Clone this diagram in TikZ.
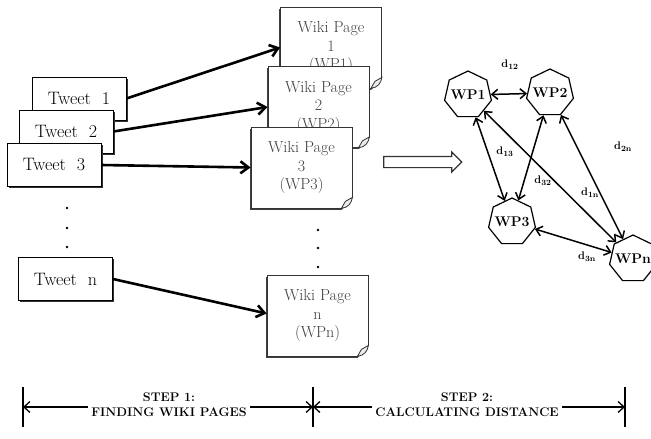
\documentclass[tikz,border=0pt]{standalone}
\usetikzlibrary{arrows.meta,shapes.geometric,shapes.arrows,shadows}
\tikzset{
  tweetbox/.style={draw, fill=white, line width=0.9pt, minimum width=94pt, minimum height=43pt,
    font=\fontsize{18}{20}\selectfont,
    drop shadow={shadow xshift=1.5pt, shadow yshift=-1.5pt, fill=black!80, opacity=1}},
  wikipage/.style={draw=black!80, fill=white, line width=0.8pt, minimum width=101pt, minimum height=81pt,
    align=center, text=black!75, font=\fontsize{16}{18.5}\selectfont,
    drop shadow={shadow xshift=-1.5pt, shadow yshift=-1.5pt, fill=black!75, opacity=1}},
  wpnode/.style={regular polygon, regular polygon sides=7, draw, line width=1.2pt,
    minimum size=48pt, inner sep=-5pt, font=\bfseries\fontsize{14}{14}\selectfont},
  fetch/.style={-{Straight Barb[length=8pt,width=12pt]}, line width=2.6pt},
  dist/.style={{Straight Barb[length=6pt,width=10pt]}-{Straight Barb[length=6pt,width=10pt]}, line width=1.5pt},
  dlabel/.style={font=\bfseries\fontsize{11}{11}\selectfont, inner sep=1pt},
  steptext/.style={align=center, font=\bfseries\fontsize{12.5}{15}\selectfont},
  dimarrow/.style={-{Straight Barb[length=6pt,width=11pt]}, line width=1.3pt},
  bigarrow/.style={single arrow, draw=black!80, fill=white, line width=1.2pt, minimum height=78pt,
    inner sep=0pt, inner ysep=5pt, single arrow head extend=4.5pt, minimum width=0pt},
}
\begin{document}
\begin{tikzpicture}[x=1pt, y=-1pt]
\useasboundingbox (0,0) rectangle (651,439);

% tweets
\node[tweetbox] (t1) at (79,98.5) {Tweet~~1};
\node[tweetbox] (t2) at (66,131.5) {Tweet~~2};
\node[tweetbox] (t3) at (54,165) {Tweet~~3};
\node[tweetbox] (tn) at (65.5,279) {Tweet~~n};
\foreach \y in {208,228,247} \fill (67,\y) circle (1.4);

% wiki pages
\node[wikipage] (wp1) at (331,47.5) {Wiki Page\\1\\(WP1)};
\node[wikipage] (wp2) at (318.5,107) {Wiki Page\\2\\(WP2)};
\node[wikipage] (wp3) at (301.5,167.5) {Wiki Page\\3\\(WP3)};
\node[wikipage] (wpn) at (317.5,315.5) {Wiki Page\\n\\(WPn)};
\foreach \y in {230,248,267} \fill (318,\y) circle (1.4);
\foreach \p in {wp1,wp2,wp3,wpn} {
  \fill[white] ([xshift=-11pt,yshift=-2pt]\p.south east) -- ([xshift=1pt,yshift=-2pt]\p.south east)
    -- ([xshift=1pt,yshift=11pt]\p.south east) -- cycle;
  \draw[black!80, line width=0.8pt, fill=black!8] ([xshift=-11pt]\p.south east)
    .. controls ([xshift=-4pt,yshift=1pt]\p.south east) and ([xshift=-1pt,yshift=5pt]\p.south east) .. ([yshift=11pt]\p.south east)
    -- ([xshift=-7pt,yshift=7pt]\p.south east) -- cycle;
}

\draw[fetch] (t1.east) -- (wp1.west);
\draw[fetch] (t2.east) -- (wp2.west);
\draw[fetch] (t3.east) -- (wp3.west);
\draw[fetch] (tn.east) -- ([yshift=2pt]wpn.west);

\node[bigarrow] (next) at (420,162) {};

% distances
\node[wpnode] (h1) at (468,95) {WP1};
\node[wpnode] (h2) at (550,93) {WP2};
\node[wpnode] (h3) at (512,222) {WP3};
\node[wpnode] (hn) at (633,259) {WPn};

\draw[dist] (h1) -- (h2);
\draw[dist] (h1) -- (h3);
\draw[dist] (h2) -- (h3);
\draw[dist] (h1) -- (hn);
\draw[dist] (h2) -- (hn);
\draw[dist] (h3) -- (hn);

\node[dlabel] (d12) at (510,65) {d$_{\mathbf{12}}$};
\node[dlabel] (d13) at (505,152) {d$_{\mathbf{13}}$};
\node[dlabel] (d32) at (543,181) {d$_{\mathbf{32}}$};
\node[dlabel] (d1n) at (590,193) {d$_{\mathbf{1n}}$};
\node[dlabel] (d2n) at (623,147) {d$_{\mathbf{2n}}$};
\node[dlabel] (d3n) at (587,257) {d$_{\mathbf{3n}}$};

% steps
\coordinate (b0) at (23,407);
\coordinate (b1) at (313,407);
\coordinate (b2) at (625,407);
\foreach \b in {b0,b1,b2} \draw[line width=1.3pt] ([yshift=20pt]\b) -- ([yshift=-20pt]\b);
\node[steptext] (s1) at (169,405) {STEP 1:\\FINDING WIKI PAGES};
\node[steptext] (s2) at (467,405) {STEP 2:\\CALCULATING DISTANCE};
\draw[dimarrow] (s1.west |- b0) -- (b0);
\draw[dimarrow] (s1.east |- b0) -- (b1);
\draw[dimarrow] (s2.west |- b1) -- (b1);
\draw[dimarrow] (s2.east |- b2) -- (b2);
\end{tikzpicture}
\end{document}
